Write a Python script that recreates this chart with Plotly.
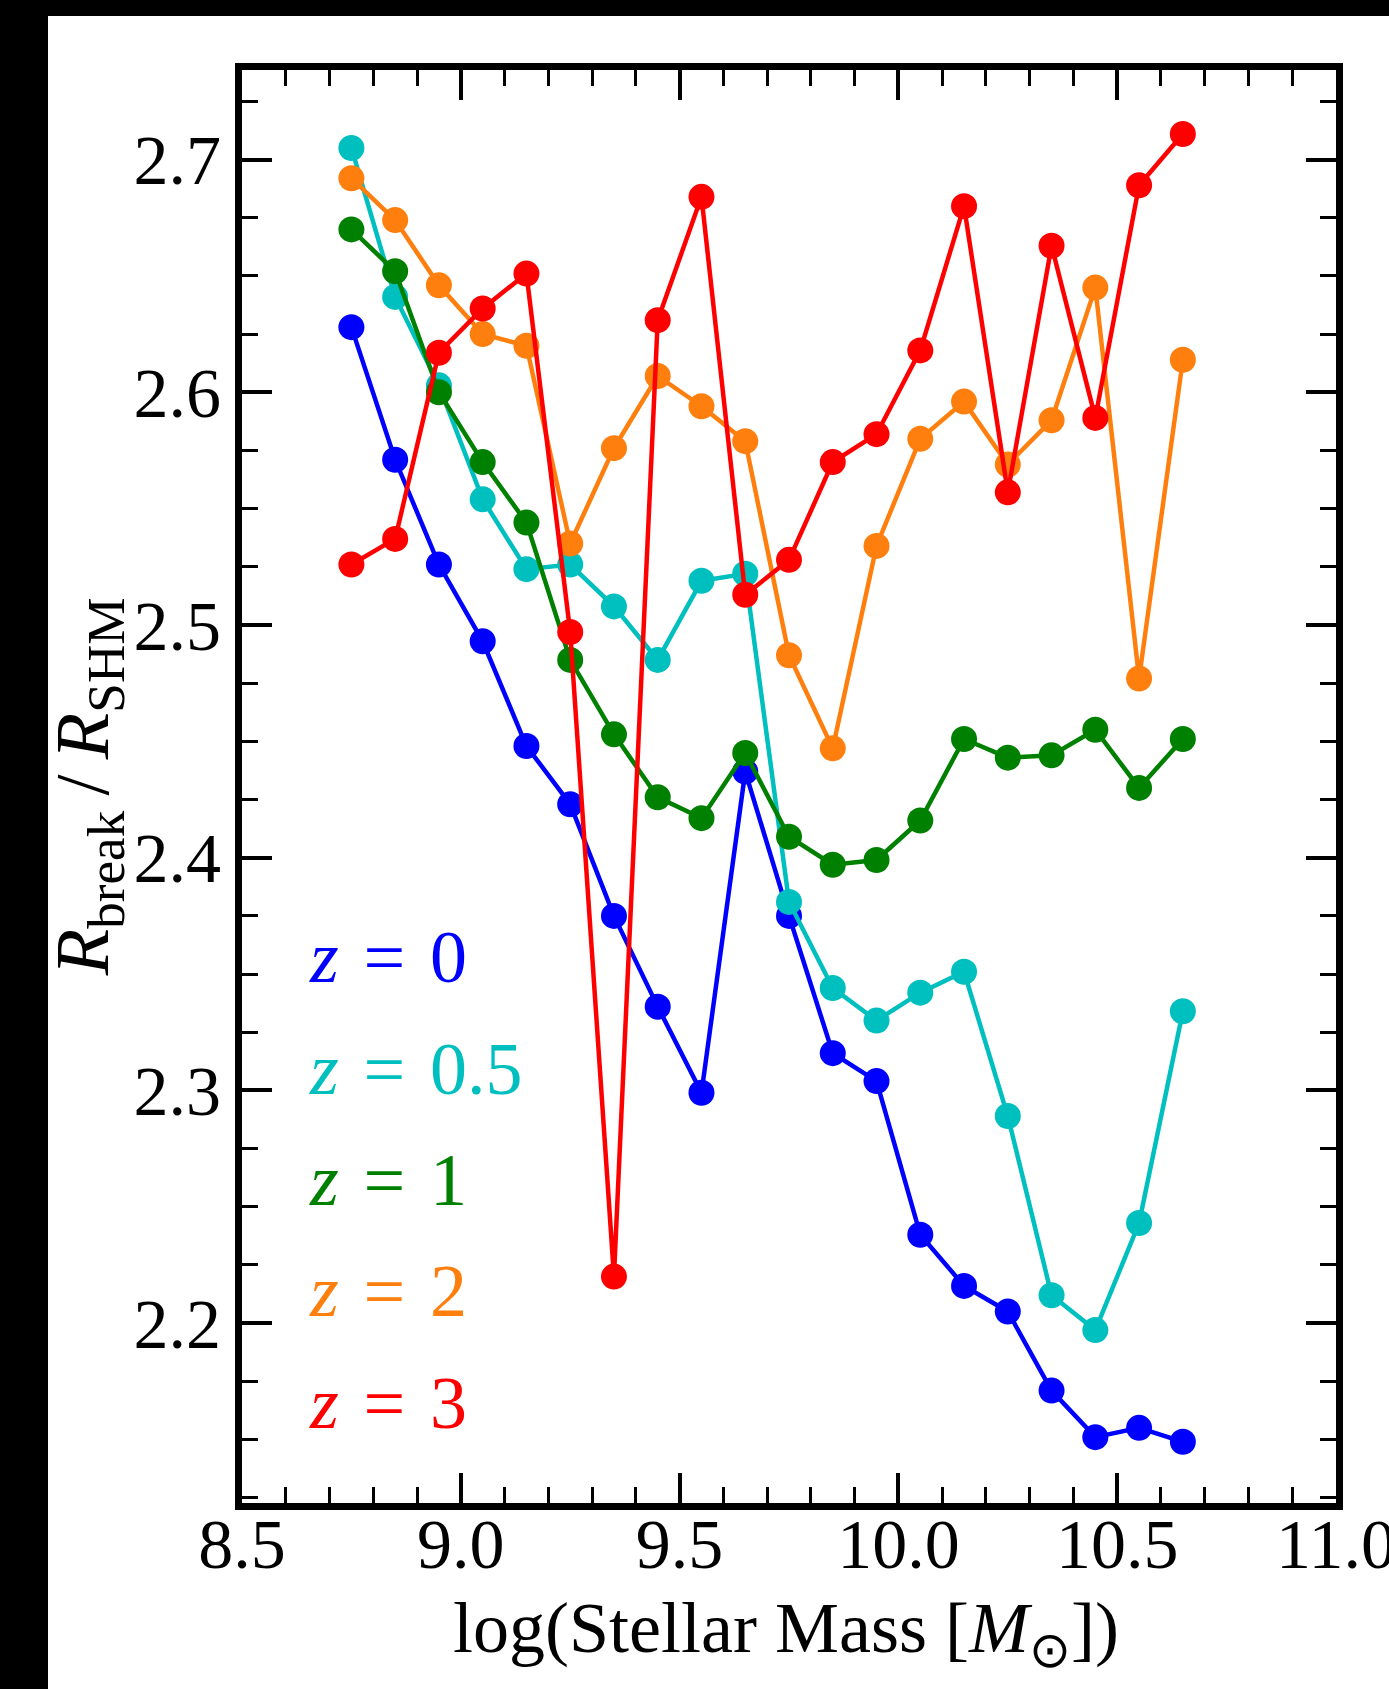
import plotly.graph_objects as go

log_mass = [8.75, 8.85, 8.95, 9.05, 9.15, 9.25, 9.35, 9.45, 9.55, 9.65,
            9.75, 9.85, 9.95, 10.05, 10.15, 10.25, 10.35, 10.45, 10.55, 10.65]

r_z0 = [2.628, 2.571, 2.526, 2.493, 2.448, 2.423, 2.375, 2.336, 2.299, 2.437,
        2.375, 2.316, 2.304, 2.238, 2.216, 2.205, 2.171, 2.151, 2.155, 2.149]
r_z05 = [2.705, 2.641, 2.603, 2.554, 2.524, 2.526, 2.508, 2.485, 2.519, 2.522,
         2.381, 2.344, 2.330, 2.342, 2.351, 2.289, 2.212, 2.197, 2.243, 2.334]
r_z1 = [2.670, 2.652, 2.600, 2.570, 2.544, 2.485, 2.453, 2.426, 2.417, 2.445,
        2.409, 2.397, 2.399, 2.416, 2.451, 2.443, 2.444, 2.455, 2.430, 2.451]
r_z2 = [2.692, 2.674, 2.646, 2.625, 2.620, 2.535, 2.576, 2.607, 2.594, 2.579,
        2.487, 2.447, 2.534, 2.580, 2.596, 2.569, 2.588, 2.645, 2.477, 2.614]
r_z3 = [2.526, 2.537, 2.617, 2.636, 2.651, 2.497, 2.220, 2.631, 2.684, 2.513,
        2.528, 2.570, 2.582, 2.618, 2.680, 2.557, 2.663, 2.589, 2.689, 2.711]

series_labels = ["0", "0.5", "1", "2", "3"]
series_values = [r_z0, r_z05, r_z1, r_z2, r_z3]
colors = ["#0000ff", "#00bfbf", "#008000", "#ff7f0e", "#ff0000"]

x_ticks = [8.5, 9.0, 9.5, 10.0, 10.5, 11.0]
y_ticks = [2.2, 2.3, 2.4, 2.5, 2.6, 2.7]

FONT = "Liberation Serif"
SP = "\u2004"

fig = go.Figure()
for lab, vals, col in zip(series_labels, series_values, colors):
    fig.add_trace(go.Scatter(
        x=log_mass, y=vals, mode="lines+markers", name="z = " + lab,
        line=dict(color=col, width=4.5),
        marker=dict(color=col, size=26, line=dict(width=0)),
        showlegend=False,
    ))

# colored legend text
leg_y = [0.381, 0.303, 0.2254, 0.148, 0.070]
for lab, col, yy in zip(series_labels, colors, leg_y):
    fig.add_annotation(
        x=0.0594, y=yy, xref="paper", yref="paper",
        xanchor="left", yanchor="middle", showarrow=False,
        text="<i>z</i>" + SP + "=" + SP + lab,
        font=dict(family=FONT, size=74, color=col),
    )

# axis titles
fig.add_annotation(
    x=-0.141, y=0.5, xref="paper", yref="paper", showarrow=False,
    textangle=-90, xanchor="center", yanchor="middle",
    text="<i>R</i><sub>break</sub>\u2009/\u2009<i>R</i><sub>SHM</sub>",
    font=dict(family=FONT, size=76, color="black"),
)
fig.add_annotation(
    x=0.497, y=-0.0907, xref="paper", yref="paper", showarrow=False,
    xanchor="center", yanchor="middle",
    text="log(Stellar Mass [<i>M</i><sub>⊙</sub>])",
    font=dict(family=FONT, size=72, color="black"),
)

# black frame strips (left and top)
fig.add_shape(type="rect", xref="paper", yref="paper",
              x0=-0.3, x1=(48 - 242) / 1094, y0=-0.3, y1=1.2,
              fillcolor="black", line=dict(width=0), layer="below")
fig.add_shape(type="rect", xref="paper", yref="paper",
              x0=-0.3, x1=1.2, y0=(1503 - 16) / 1433, y1=1.2,
              fillcolor="black", line=dict(width=0), layer="below")

axis_common = dict(
    showline=True, linewidth=7, linecolor="black", mirror="allticks",
    ticks="inside", ticklen=30, tickwidth=3.5, tickcolor="black",
    showgrid=False, zeroline=False, automargin=False,
    tickfont=dict(family=FONT, size=70, color="black"),
    tickformat=".1f", tickmode="array", ticklabeloverflow="allow",
)

fig.update_xaxes(
    range=[8.5, 11.0], tickvals=x_ticks, ticklabelstandoff=-26,
    minor=dict(ticks="inside", dtick=0.1, tick0=8.5, ticklen=16,
               tickwidth=3, tickcolor="black", showgrid=False),
    **axis_common,
)
fig.update_yaxes(
    range=[2.1227, 2.7385], tickvals=y_ticks,
    minor=dict(ticks="inside", dtick=0.025, tick0=2.2, ticklen=16,
               tickwidth=3, tickcolor="black", showgrid=False),
    **axis_common,
)

fig.update_layout(
    width=1389, height=1689,
    margin=dict(l=242, r=53, t=70, b=186, pad=0, autoexpand=False),
    paper_bgcolor="white", plot_bgcolor="white",
)

fig.write_html("out.html")
